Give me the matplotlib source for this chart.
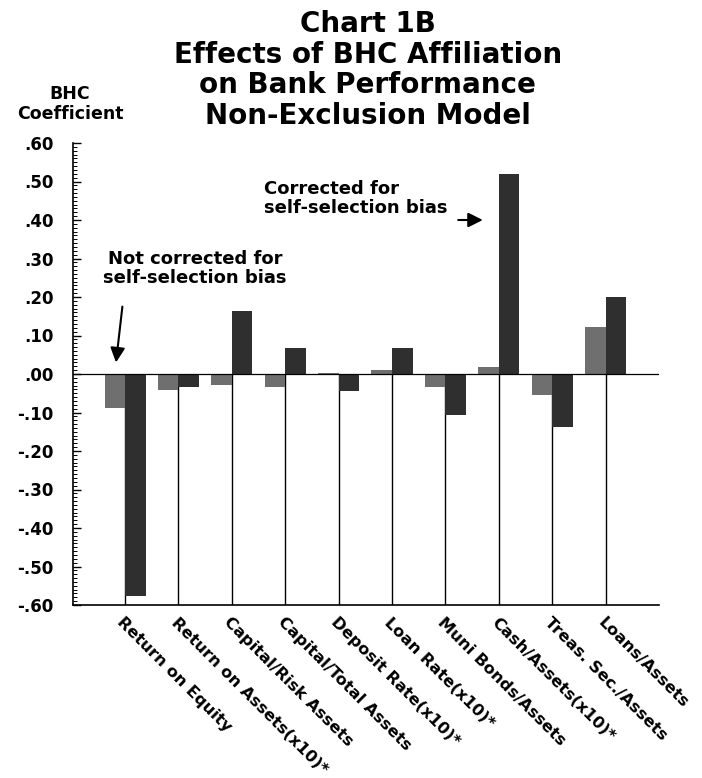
import numpy as np
import matplotlib
matplotlib.use("Agg")
import matplotlib.pyplot as plt

# data
categories = ["Return on Equity", "Return on Assets(x10)*", "Capital/Risk Assets",
              "Capital/Total Assets", "Deposit Rate(x10)*", "Loan Rate(x10)*",
              "Muni Bonds/Assets", "Cash/Assets(x10)*", "Treas. Sec./Assets",
              "Loans/Assets"]
not_corrected = [-0.089, -0.042, -0.028, -0.033, 0.003, 0.010, -0.035, 0.019, -0.055, 0.122]
corrected = [-0.577, -0.033, 0.164, 0.067, -0.044, 0.067, -0.107, 0.520, -0.138, 0.200]
yticks = [0.6, 0.5, 0.4, 0.3, 0.2, 0.1, 0.0, -0.1, -0.2, -0.3, -0.4, -0.5, -0.6]


def fmt(v):
    s = "%.2f" % v
    s = s.replace("0.", ".")
    return s


plt.rcParams['font.family'] = ['DejaVu Sans']
fig = plt.figure(figsize=(7.02, 7.78), dpi=100)
ax = fig.add_axes([73 / 702, 1 - 605 / 778, (659 - 73) / 702, (605 - 143) / 778])

x = np.arange(len(categories))
w = 0.385
ax.vlines(x, -0.6, 0, color='black', lw=1, zorder=1)
ax.bar(x - w / 2, not_corrected, w, color='#6f6f6f', zorder=2)
ax.bar(x + w / 2, corrected, w, color='#2f2f2f', zorder=3)
ax.axhline(0, color='black', lw=0.9, zorder=4)

ax.set_xlim(-0.975, 10.0)
ax.set_ylim(-0.6, 0.6)
ax.spines['top'].set_visible(False)
ax.spines['right'].set_visible(False)
ax.spines['left'].set_linewidth(1.2)
ax.spines['bottom'].set_linewidth(1.2)
ax.set_xticks([])
ax.set_yticks(yticks)
ax.set_yticklabels([fmt(v) for v in yticks], fontsize=12, fontweight='bold')
ax.set_yticks(np.arange(-60, 61) / 100.0, minor=True)
ax.tick_params(axis='y', which='major', direction='in', length=6, width=1, pad=14)
ax.tick_params(axis='y', which='minor', direction='in', length=3, width=0.7)

for i, lab in enumerate(categories):
    ax.annotate(lab, xy=(i, -0.6), xycoords='data', xytext=(0, -7),
                textcoords='offset points', rotation=-45, rotation_mode='anchor',
                ha='left', va='top', fontsize=11.7, fontweight='bold')

fig.text(0.524, 1 - 10 / 778, "Chart 1B\nEffects of BHC Affiliation\non Bank Performance\nNon-Exclusion Model",
         ha='center', va='top', fontsize=20, fontweight='bold', linespacing=1.12)
fig.text(70 / 702, 1 - 85 / 778, "BHC\nCoefficient", ha='center', va='top',
         fontsize=12.5, fontweight='bold', linespacing=1.15)

ax.text(1.31, 0.322, "Not corrected for\nself-selection bias", ha='center', va='top',
        fontsize=13, fontweight='bold', linespacing=1.05)
ax.annotate("", xy=(-0.17, 0.03), xytext=(-0.05, 0.175),
            arrowprops=dict(arrowstyle='-|>', color='black', lw=1.5,
                            mutation_scale=22, shrinkA=0, shrinkB=0))
ax.text(2.6, 0.408, "Corrected for\nself-selection bias", ha='left', va='bottom',
        fontsize=13, fontweight='bold', linespacing=1.05)
ax.annotate("", xy=(6.70, 0.40), xytext=(6.24, 0.40),
            arrowprops=dict(arrowstyle='-|>', color='black', lw=1.5,
                            mutation_scale=22, shrinkA=0, shrinkB=0))

fig.savefig("out.png", dpi=100)
